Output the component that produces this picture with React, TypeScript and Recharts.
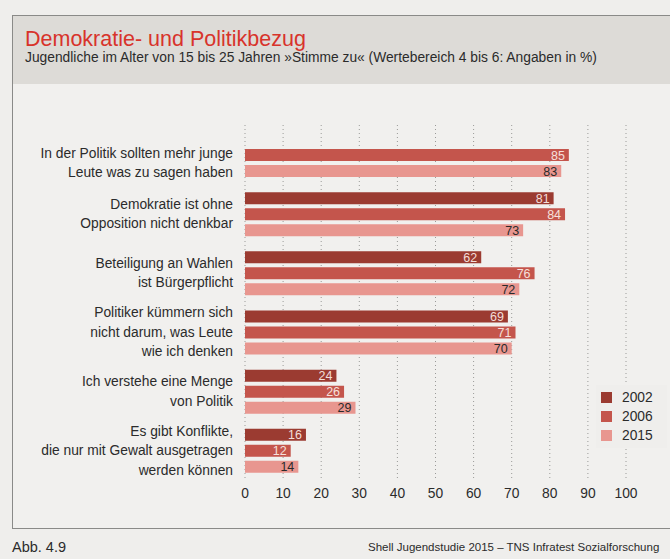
import React from 'react';
import { BarChart, Bar, XAxis, YAxis, CartesianGrid, LabelList } from 'recharts';

const categories = [
  'In der Politik sollten mehr junge\nLeute was zu sagen haben',
  'Demokratie ist ohne\nOpposition nicht denkbar',
  'Beteiligung an Wahlen\nist Bürgerpflicht',
  'Politiker kümmern sich\nnicht darum, was Leute\nwie ich denken',
  'Ich verstehe eine Menge\nvon Politik',
  'Es gibt Konflikte,\ndie nur mit Gewalt ausgetragen\nwerden können',
];
const values2002 = [null, 81, 62, 69, 24, 16];
const values2006 = [85, 84, 76, 71, 26, 12];
const values2015 = [83, 73, 72, 70, 29, 14];
const xTicks = [0, 10, 20, 30, 40, 50, 60, 70, 80, 90, 100];

const series = [
  { key: 'y2002', name: '2002', color: '#9b3b31', text: '#f3ddd9' },
  { key: 'y2006', name: '2006', color: '#c4554c', text: '#f6e0dc' },
  { key: 'y2015', name: '2015', color: '#e8968f', text: '#2a2a2a' },
];

const data = categories.map((label, i) => ({
  label,
  y2002: values2002[i],
  y2006: values2006[i],
  y2015: values2015[i],
}));

const FONT = '"Liberation Sans", Arial, Helvetica, sans-serif';
const BG = '#efeeec';

const CategoryTick = ({ y, payload }: any) => {
  const lines = String(payload.value).split('\n');
  const row = data.find((d) => d.label === payload.value);
  // first row has no 2002 bar, so the label sits on the remaining two bars
  const shift = row && row.y2002 == null ? 8 : 0;
  const lh = 19.5;
  const start = y + shift - ((lines.length - 1) * lh) / 2;
  return (
    <text x={233} y={start} textAnchor="end" fill="#2b2b2b" fontSize={13.8} fontFamily={FONT}>
      {lines.map((l, i) => (
        <tspan key={i} x={233} y={start + i * lh} dy="0.35em">
          {l}
        </tspan>
      ))}
    </text>
  );
};

const valueLabel = (fill: string) => (props: any) => {
  const { x, y, width, height, value } = props;
  if (value == null) return null;
  return (
    <text
      x={x + width - 4}
      y={y + height / 2}
      dy="0.36em"
      textAnchor="end"
      fill={fill}
      fontSize={12.5}
      fontFamily={FONT}
    >
      {value}
    </text>
  );
};

export default function App() {
  return (
    <div
      style={{
        position: 'absolute',
        left: 0,
        top: 0,
        width: 670,
        height: 559,
        overflow: 'hidden',
        background: BG,
        fontFamily: FONT,
      }}
    >
      {/* panel frame */}
      <div
        style={{
          position: 'absolute',
          left: 12,
          top: 15,
          width: 700,
          height: 512,
          borderTop: '1px solid #8a8a88',
          borderLeft: '1px solid #8a8a88',
          borderBottom: '1px solid #8a8a88',
          background: '#f1f0ee',
        }}
      />
      <div style={{ position: 'absolute', left: 13, top: 16, width: 700, height: 68, background: '#dddbd7' }} />
      <div style={{ position: 'absolute', left: 25, top: 27, fontSize: 21.5, color: '#d8332b' }}>
        Demokratie- und Politikbezug
      </div>
      <div style={{ position: 'absolute', left: 25, top: 50, fontSize: 13.8, color: '#2b2b2b', whiteSpace: 'nowrap' }}>
        Jugendliche im Alter von 15 bis 25 Jahren »Stimme zu« (Wertebereich 4 bis 6: Angaben in %)
      </div>

      <div style={{ position: 'absolute', left: 0, top: 0 }}>
        <BarChart
          width={670}
          height={559}
          data={data}
          layout="vertical"
          margin={{ top: 125, right: 44, left: 10, bottom: 49 }}
          barSize={12}
          barGap={4}
        >
          <CartesianGrid horizontal={false} vertical stroke="#9a9a98" strokeDasharray="1 3" />
          <XAxis
            type="number"
            domain={[0, 100]}
            ticks={xTicks}
            axisLine={false}
            tickLine={false}
            height={30}
            tick={{ fill: '#2b2b2b', fontSize: 13.8, fontFamily: FONT }}
            interval={0}
          />
          <YAxis
            type="category"
            dataKey="label"
            width={235}
            axisLine={false}
            tickLine={false}
            tick={<CategoryTick />}
            interval={0}
          />
          {series.map((s) => (
            <Bar key={s.key} dataKey={s.key} name={s.name} fill={s.color} isAnimationActive={false}>
              <LabelList dataKey={s.key} content={valueLabel(s.text)} />
            </Bar>
          ))}
        </BarChart>
      </div>

      {/* legend */}
      <div style={{ position: 'absolute', left: 596, top: 385, background: BG, padding: '3px 14px 3px 5px' }}>
        {series.map((s) => (
          <div key={s.key} style={{ display: 'flex', alignItems: 'center', height: 19 }}>
            <span style={{ width: 11, height: 11, background: s.color, display: 'inline-block', marginRight: 10 }} />
            <span style={{ fontSize: 13.8, color: '#2b2b2b' }}>{s.name}</span>
          </div>
        ))}
      </div>

      <div style={{ position: 'absolute', left: 12, top: 539, fontSize: 14.5, color: '#2b2b2b' }}>Abb. 4.9</div>
      <div style={{ position: 'absolute', left: 368, top: 541, fontSize: 11.5, color: '#2b2b2b', whiteSpace: 'nowrap' }}>
        Shell Jugendstudie 2015 – TNS Infratest Sozialforschung
      </div>
    </div>
  );
}
